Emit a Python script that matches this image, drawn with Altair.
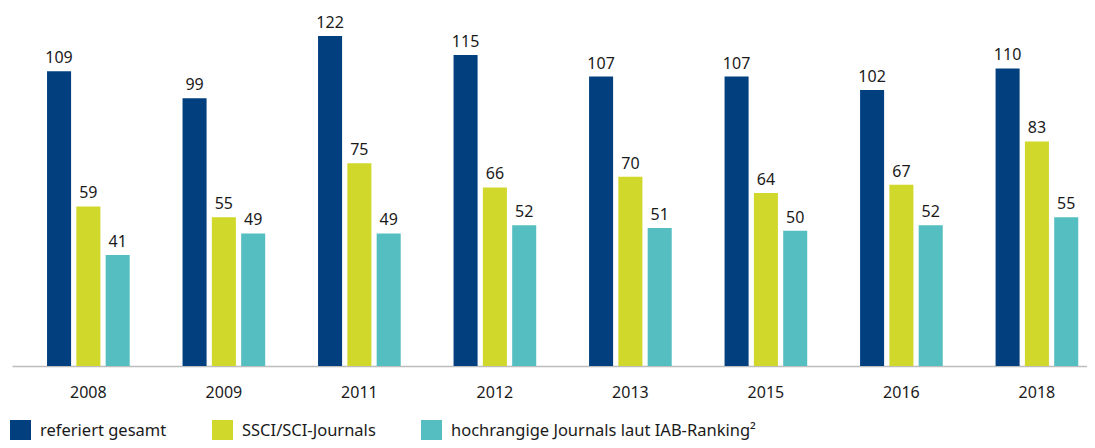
import altair as alt
import pandas as pd

years = ["2008", "2009", "2011", "2012", "2013", "2015", "2016", "2018"]
series = ["referiert gesamt", "SSCI/SCI-Journals", "hochrangige Journals laut IAB-Ranking²"]
gesamt = [109, 99, 122, 115, 107, 107, 102, 110]
ssci = [59, 55, 75, 66, 70, 64, 67, 83]
iab = [41, 49, 49, 52, 51, 50, 52, 55]
colors = ["#023f7e", "#cfd82b", "#55bec0"]

rows = []
for i, y in enumerate(years):
    for s, vals in zip(series, [gesamt, ssci, iab]):
        rows.append({"year": y, "series": s, "value": vals[i]})
df = pd.DataFrame(rows)

FONT = "Noto Sans"
TXT = "#1a1a1a"

base = alt.Chart(df).encode(
    x=alt.X(
        "year:N",
        sort=years,
        scale=alt.Scale(paddingInner=0.39, paddingOuter=0.1616, align=0.8),
        axis=alt.Axis(
            title=None, labelAngle=0, ticks=False, domainColor="#bdbdbd",
            domainWidth=1.5, labelFont=FONT, labelFontSize=16, labelColor=TXT,
            labelPadding=18, grid=False,
        ),
    ),
    xOffset=alt.XOffset("series:N", sort=series,
                        scale=alt.Scale(paddingInner=0.18, paddingOuter=0)),
    y=alt.Y("value:Q", scale=alt.Scale(domain=[0, 132.35], nice=False), axis=None),
)

bars = base.mark_bar().encode(
    color=alt.Color(
        "series:N",
        sort=series,
        scale=alt.Scale(domain=series, range=colors),
        legend=alt.Legend(
            title=None, orient="none", legendX=-2, legendY=412,
            direction="horizontal", symbolType="square", symbolSize=441,
            symbolStrokeWidth=0, labelFont=FONT, labelFontSize=16.5,
            labelColor=TXT, labelOffset=9, columnPadding=45, padding=0,
            labelLimit=0,
        ),
    )
)

labels = base.mark_text(dy=-8, baseline="alphabetic", font=FONT, fontSize=16,
                        color=TXT).encode(text="value:Q")

chart = (
    alt.layer(bars, labels)
    .properties(
        width=1075, height=358,
        autosize=alt.AutoSizeParams(type="none"),
        padding={"left": 4, "top": 0, "right": 0, "bottom": 74},
    )
    .configure_view(stroke=None)
)

chart.save("out.html", embed_options={"renderer": "svg", "actions": False})
